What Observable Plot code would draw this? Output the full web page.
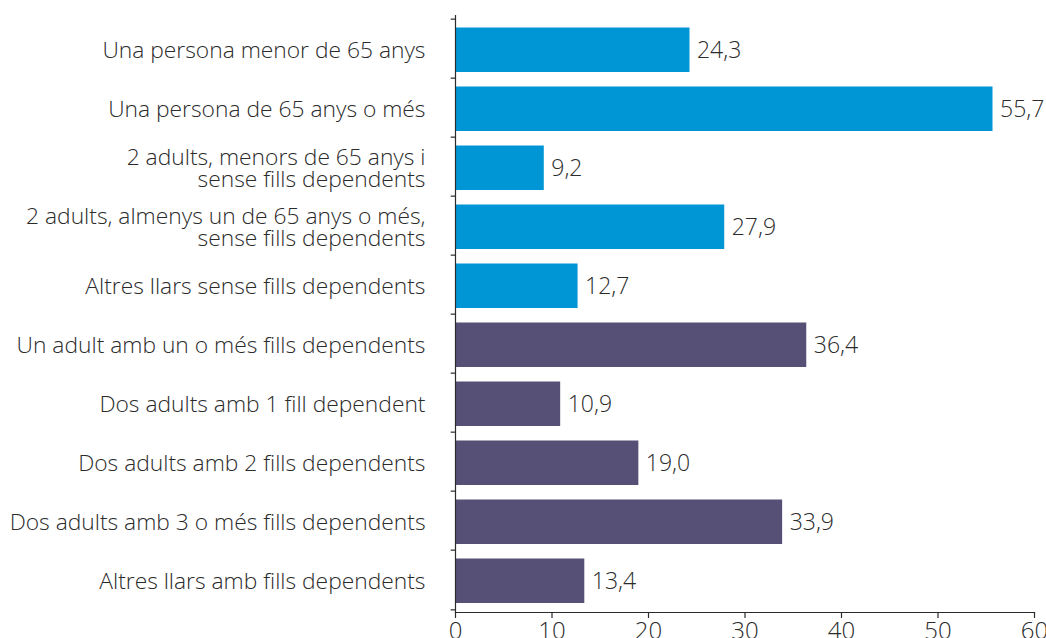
<!DOCTYPE html>
<html>
<head>
<meta charset="utf-8">
<script src="https://cdn.jsdelivr.net/npm/d3@7"></script>
<script src="https://cdn.jsdelivr.net/npm/@observablehq/plot@0.6"></script>
<style>
  html, body { margin: 0; padding: 0; background: #fff; }
  #chart svg { display: block; }
  #chart svg text { font-variant-ligatures: none; }
</style>
</head>
<body>
<div id="chart"></div>
<script>
const categories = [
  "Una persona menor de 65 anys",
  "Una persona de 65 anys o més",
  "2 adults, menors de 65 anys i\nsense fills dependents",
  "2 adults, almenys un de 65 anys o més,\nsense fills dependents",
  "Altres llars sense fills dependents",
  "Un adult amb un o més fills dependents",
  "Dos adults amb 1 fill dependent",
  "Dos adults amb 2 fills dependents",
  "Dos adults amb 3 o més fills dependents",
  "Altres llars amb fills dependents"
];
const values = [24.3, 55.7, 9.2, 27.9, 12.7, 36.4, 10.9, 19.0, 33.9, 13.4];
const groups = ["sense", "sense", "sense", "sense", "sense", "amb", "amb", "amb", "amb", "amb"];
const xTicks = [0, 10, 20, 30, 40, 50, 60];

const data = categories.map((c, i) => ({cat: c, value: values[i], group: groups[i]}));
const fmt = v => v.toFixed(1).replace(".", ",");
const font = "'Open Sans', sans-serif";
const ink = "#2b2b2b";

const chart = Plot.plot({
  width: 1046,
  height: 638,
  marginTop: 15,
  marginBottom: 26,
  marginLeft: 455,
  marginRight: 12,
  style: {fontFamily: font, color: ink, background: "#fff", fontWeight: 350},
  x: {domain: [0, 60], axis: null},
  y: {domain: categories, padding: 0, axis: null},
  color: {domain: ["sense", "amb"], range: ["#0096d6", "#575076"]},
  marks: [
    Plot.barX(data, {y: "cat", x: "value", fill: "group", insetTop: 8.5, insetBottom: 6}),
    Plot.text(data, {y: "cat", x: "value", text: d => fmt(d.value), textAnchor: "start", dx: 7, dy: 1.5, fontSize: 23, fill: ink}),
    Plot.text(categories, {y: d => d, x: 0, text: d => d, textAnchor: "end", dx: -30, dy: 1.5, fontSize: 22.8, lineHeight: 0.97, fill: ink}),
    Plot.ruleY(categories, {y: d => d, x1: -0.45, x2: 0, dy: -29.85, stroke: ink, strokeWidth: 1.2}),
    Plot.ruleY(categories.slice(-1), {y: d => d, x1: -0.45, x2: 0, dy: 29.85, stroke: ink, strokeWidth: 1.2}),
    Plot.frame({anchor: "left", stroke: ink, strokeWidth: 1.2}),
    Plot.frame({anchor: "bottom", stroke: ink, strokeWidth: 1.2}),
    Plot.axisX({ticks: xTicks, tickSize: 6, tickPadding: 3, fontSize: 24, stroke: ink, fill: ink, strokeWidth: 1.2, label: null})
  ]
});
document.getElementById("chart").append(chart);
</script>
</body>
</html>
